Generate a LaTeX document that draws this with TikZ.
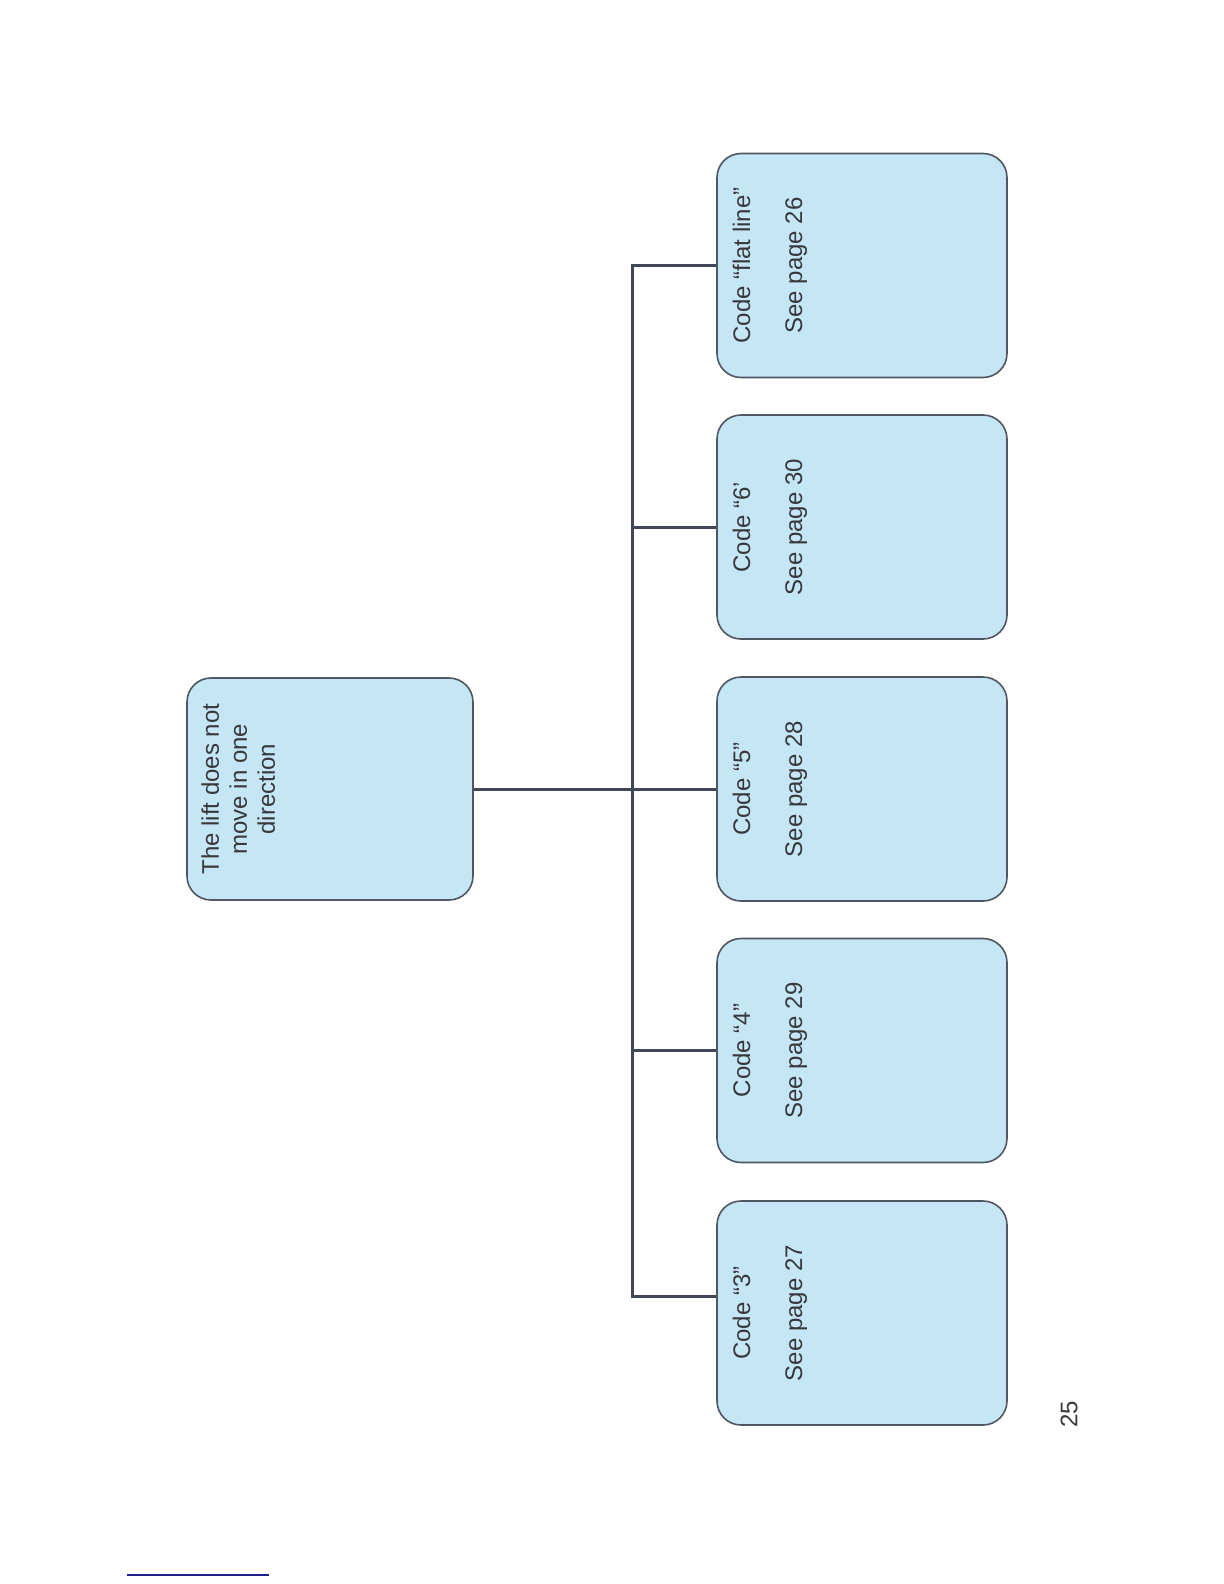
\documentclass[tikz,border=0pt]{standalone}
\usepackage{fontspec}
\setmainfont{Liberation Sans}
\definecolor{boxfill}{RGB}{197,230,244}
\definecolor{boxline}{RGB}{80,86,98}
\definecolor{linkgray}{RGB}{64,72,88}
\definecolor{textgray}{RGB}{55,55,60}
\definecolor{rulenavy}{RGB}{30,30,140}
\begin{document}
\begin{tikzpicture}[x=0.5pt,y=-0.5pt,
    box/.style={draw=boxline,fill=boxfill,line width=0.8pt,rounded corners=12pt,
        minimum width=145pt,minimum height=112pt,inner sep=0pt},
    boxtext/.style={rotate=90,anchor=north,align=center,inner sep=0pt,
        text=textgray,font=\fontsize{12}{14}\selectfont},
    link/.style={draw=linkgray,line width=1.5pt}]

    \useasboundingbox (0,0) rectangle (1224,1584);

    % boxes
    \node[box,minimum width=143pt,minimum height=111pt] (root) at (330,789) {};
    \node[box] (cflat) at (862,265.5) {};
    \node[box] (c6) at (862,527) {};
    \node[box] (c5) at (862,789) {};
    \node[box] (c4) at (862,1050.5) {};
    \node[box] (c3) at (862,1313) {};

    % texts
    \node[boxtext] (troot) at ([xshift=7.5pt]root.west)
        {The lift does not\\move in one\\direction};
    \node[boxtext] (tflat) at ([xshift=8pt]cflat.west)
        {Code “flat line”\\[12pt]See page 26};
    \node[boxtext] (t6) at ([xshift=8pt]c6.west) {Code “6’\\[12pt]See page 30};
    \node[boxtext] (t5) at ([xshift=8pt]c5.west) {Code “5”\\[12pt]See page 28};
    \node[boxtext] (t4) at ([xshift=8pt]c4.west) {Code “4”\\[12pt]See page 29};
    \node[boxtext] (t3) at ([xshift=8pt]c3.west) {Code “3”\\[12pt]See page 27};

    % connectors
    \coordinate (bus) at (632,789);
    \draw[link] (root.east) -- (bus);
    \draw[link] (bus) |- (cflat.west);
    \draw[link] (bus) |- (c6.west);
    \draw[link] (bus) -- (c5.west);
    \draw[link] (bus) |- (c4.west);
    \draw[link] (bus) |- ([yshift=8.5pt]c3.west);

    % page number and rule
    \node[rotate=90,inner sep=0pt,text=textgray,font=\fontsize{12}{14}\selectfont]
        (pagenum) at (1069,1414) {25};
    \coordinate (rulea) at (127,1575);
    \coordinate (ruleb) at (269,1575);
    \draw[rulenavy,line width=0.8pt] (rulea) -- (ruleb);

\end{tikzpicture}
\end{document}
